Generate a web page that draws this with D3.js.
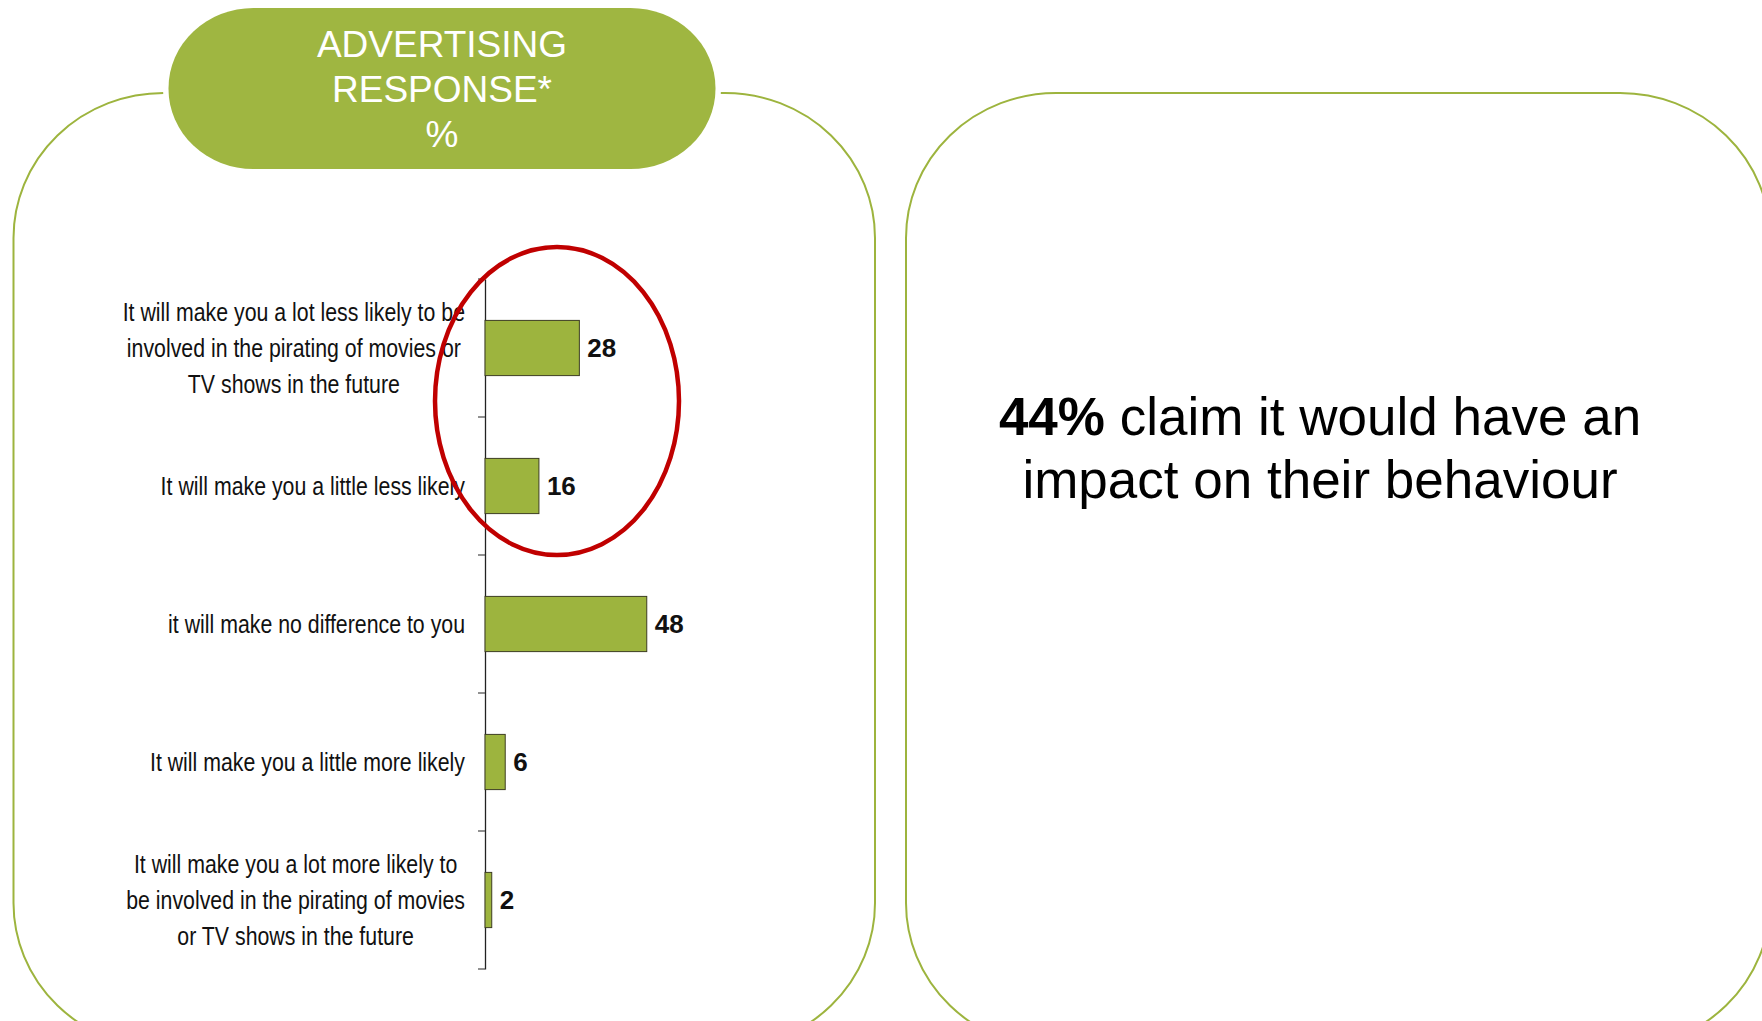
<!DOCTYPE html>
<html>
<head>
<meta charset="utf-8">
<script src="https://cdn.jsdelivr.net/npm/d3@7"></script>
<style>
  body { margin: 0; background: #fff; }
  svg { display: block; }
</style>
</head>
<body>
<div class="chart"></div>
<script>
// Advertising response bar chart
let categories = [
  ["It will make you a lot less likely to be", "involved in the pirating of movies or", "TV shows in the future"],
  ["It will make you a little less likely"],
  ["it will make no difference to you"],
  ["It will make you a little more likely"],
  ["It will make you a lot more likely to", "be involved in the pirating of movies", "or TV shows in the future"]
];
let values = [28, 16, 48, 6, 2];
let titleLines = ["ADVERTISING", "RESPONSE*", "%"];
let headline = { bold: "44%", rest: " claim it would have an", line2: "impact on their behaviour" };

let svgWidth = 1762;
let svgHeight = 1021;
let green = "#9db43e";

let svg = d3.select(".chart")
  .append("svg")
  .attr("width", svgWidth)
  .attr("height", svgHeight);

// panels
svg.append("rect")
  .attr("x", 13.5).attr("y", 93)
  .attr("width", 861.5).attr("height", 955)
  .attr("rx", 150).attr("ry", 145)
  .attr("fill", "none")
  .attr("stroke", green)
  .attr("stroke-width", 2);

svg.append("rect")
  .attr("x", 906).attr("y", 93)
  .attr("width", 864).attr("height", 955)
  .attr("rx", 150).attr("ry", 145)
  .attr("fill", "none")
  .attr("stroke", green)
  .attr("stroke-width", 2);

// title pill (white halo hides the panel line next to it)
svg.append("rect")
  .attr("x", 163).attr("y", 3)
  .attr("width", 558).attr("height", 171)
  .attr("rx", 90).attr("ry", 85)
  .attr("fill", "#fff");

svg.append("rect")
  .attr("x", 168.5).attr("y", 8)
  .attr("width", 547).attr("height", 161)
  .attr("rx", 85).attr("ry", 80)
  .attr("fill", "#9fb641");

svg.append("g")
  .selectAll("text")
  .data(titleLines)
  .enter()
  .append("text")
  .attr("x", 442)
  .attr("y", (d, i) => 57 + i * 45)
  .attr("text-anchor", "middle")
  .attr("font-family", "Liberation Sans, Arial, sans-serif")
  .attr("font-size", "37px")
  .attr("fill", "#fff")
  .text(d => d);

// chart
let axisX = 485;
let yScale = d3.scaleBand()
  .domain(d3.range(categories.length))
  .range([279, 969])
  .paddingInner(0.6)
  .paddingOuter(0.3);

let xScale = d3.scaleLinear()
  .domain([0, 100])
  .range([0, 337]);

let chartGroup = svg.append("g")
  .attr("transform", `translate(${axisX}, 0)`);

let leftAxis = d3.axisLeft(yScale).tickSize(0).tickFormat("");
chartGroup.append("g")
  .call(leftAxis)
  .call(g => g.select(".domain").attr("stroke", "#222").attr("stroke-width", 1.3));

// boundary ticks
let step = yScale.step();
chartGroup.selectAll(".btick")
  .data(d3.range(categories.length + 1))
  .enter()
  .append("line")
  .attr("class", "btick")
  .attr("x1", -7).attr("x2", 0)
  .attr("y1", i => yScale.range()[0] + i * step)
  .attr("y2", i => yScale.range()[0] + i * step)
  .attr("stroke", "#555")
  .attr("stroke-width", 1.3);

chartGroup.selectAll(".bar")
  .data(values)
  .enter()
  .append("rect")
  .attr("class", "bar")
  .attr("x", 0)
  .attr("y", (d, i) => yScale(i))
  .attr("width", d => xScale(d))
  .attr("height", yScale.bandwidth())
  .attr("fill", green)
  .attr("stroke", "#3d3d22")
  .attr("stroke-width", 1);

chartGroup.selectAll(".val")
  .data(values)
  .enter()
  .append("text")
  .attr("class", "val")
  .attr("x", d => xScale(d) + 8)
  .attr("y", (d, i) => yScale(i) + yScale.bandwidth() / 2)
  .attr("dy", "0.36em")
  .attr("font-family", "Liberation Sans, Arial, sans-serif")
  .attr("font-weight", "bold")
  .attr("font-size", "26px")
  .attr("fill", "#111")
  .text(d => d);

// category labels: block right aligned, lines centred, squeezed like Arial Narrow
let labelRight = 465;
let lineH = 36;
let squeeze = 0.82;
categories.forEach(function (lines, i) {
  let cy = yScale(i) + yScale.bandwidth() / 2;
  let g = svg.append("g")
    .attr("transform", `translate(${labelRight}, 0) scale(${squeeze}, 1)`);
  let texts = g.selectAll("text")
    .data(lines)
    .enter()
    .append("text")
    .attr("y", (d, j) => cy + (j - (lines.length - 1) / 2) * lineH)
    .attr("dy", "0.36em")
    .attr("text-anchor", "middle")
    .attr("font-family", "Liberation Sans, Arial, sans-serif")
    .attr("font-size", "26px")
    .attr("fill", "#111")
    .text(d => d);
  let maxW = d3.max(texts.nodes(), n => n.getComputedTextLength());
  texts.attr("x", -maxW / 2);
});

// highlight ellipse
svg.append("ellipse")
  .attr("cx", 557).attr("cy", 401)
  .attr("rx", 122).attr("ry", 154)
  .attr("fill", "none")
  .attr("stroke", "#c00000")
  .attr("stroke-width", 4.5);

// right panel headline
let head = svg.append("text")
  .attr("x", 1320).attr("y", 435)
  .attr("text-anchor", "middle")
  .attr("font-family", "Liberation Sans, Arial, sans-serif")
  .attr("font-size", "53px")
  .attr("fill", "#000");
head.append("tspan").attr("font-weight", "bold").text(headline.bold);
head.append("tspan").text(headline.rest);

svg.append("text")
  .attr("x", 1320).attr("y", 498)
  .attr("text-anchor", "middle")
  .attr("font-family", "Liberation Sans, Arial, sans-serif")
  .attr("font-size", "53px")
  .attr("fill", "#000")
  .text(headline.line2);
</script>
</body>
</html>
